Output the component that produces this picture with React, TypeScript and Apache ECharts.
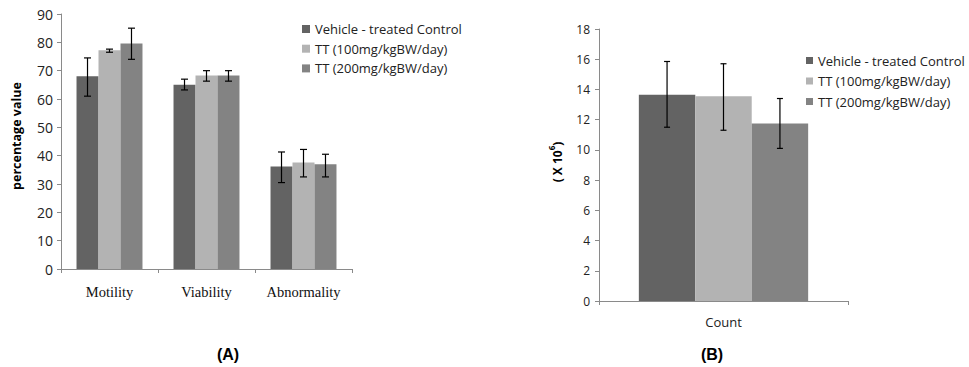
import React, { useEffect, useRef } from "react";
import * as echarts from "echarts";

const seriesNames = ["Vehicle - treated Control", "TT (100mg/kgBW/day)", "TT (200mg/kgBW/day)"];
const colors = ["#636363", "#b3b3b3", "#838383"];

const categoriesA = ["Motility", "Viability", "Abnormality"];
const vehicleA = [68, 65, 36.2];
const tt100A = [77.2, 68.3, 37.6];
const tt200A = [79.6, 68.3, 37];
const vehicleErrA = [[61, 74.5], [63.2, 67], [30.5, 41.3]];
const tt100ErrA = [[76.5, 77.6], [66.3, 70], [32.5, 42.2]];
const tt200ErrA = [[74, 85], [66.3, 70], [32.5, 40.5]];

const categoriesB = ["Count"];
const vehicleB = [13.65];
const tt100B = [13.55];
const tt200B = [11.75];
const vehicleErrB = [[11.5, 15.85]];
const tt100ErrB = [[11.3, 15.7]];
const tt200ErrB = [[10.1, 13.4]];

const yTicksA = { min: 0, max: 90, interval: 10 };
const yTicksB = { min: 0, max: 18, interval: 2 };

const GAP = 0.32;

function errSeries(errs: number[][], idx: number, axisIdx: number, cap: number) {
  return {
    type: "custom",
    xAxisIndex: axisIdx,
    yAxisIndex: axisIdx,
    silent: true,
    z: 10,
    data: errs.map((e, i) => [i, e[0], e[1]]),
    encode: { x: 0, y: [1, 2] },
    renderItem: (params: any, api: any) => {
      const cat = api.value(0);
      const lo = api.coord([cat, api.value(1)]);
      const hi = api.coord([cat, api.value(2)]);
      const catW = api.size([1, 0])[0];
      const bw = (catW * (1 - GAP)) / 3;
      const x = lo[0] + (idx - 1) * bw;
      const st = { stroke: "#000", lineWidth: 1.2 };
      return {
        type: "group",
        children: [
          { type: "line", shape: { x1: x, y1: lo[1], x2: x, y2: hi[1] }, style: st },
          { type: "line", shape: { x1: x - cap, y1: lo[1], x2: x + cap, y2: lo[1] }, style: st },
          { type: "line", shape: { x1: x - cap, y1: hi[1], x2: x + cap, y2: hi[1] }, style: st },
        ],
      };
    },
  };
}

export default function App() {
  const ref = useRef<HTMLDivElement>(null);
  useEffect(() => {
    if (!ref.current) return;
    const chart = echarts.init(ref.current, null, { renderer: "svg" });
    const axisLine = { show: true, lineStyle: { color: "#8a8a8a", width: 1 } };
    const axisTick = { show: true, length: 4, lineStyle: { color: "#8a8a8a" } };
    const sans = "Open Sans";
    const dataA = [vehicleA, tt100A, tt200A];
    const dataB = [vehicleB, tt100B, tt200B];
    const errA = [vehicleErrA, tt100ErrA, tt200ErrA];
    const errB = [vehicleErrB, tt100ErrB, tt200ErrB];
    const option: any = {
      animation: false,
      backgroundColor: "#ffffff",
      grid: [
        { left: 61, top: 14, width: 291, height: 255 },
        { left: 599, top: 29, width: 249, height: 272 },
      ],
      legend: [
        {
          data: seriesNames,
          orient: "vertical",
          left: 302,
          top: 21.5,
          padding: 0,
          itemWidth: 8,
          itemHeight: 8,
          itemGap: 4.7,
          icon: "rect",
          textStyle: { fontFamily: sans, fontSize: 13, color: "#222", lineHeight: 15 },
        },
        {
          data: seriesNames,
          orient: "vertical",
          left: 806,
          top: 53,
          padding: 0,
          itemWidth: 7,
          itemHeight: 7,
          itemGap: 5.5,
          icon: "rect",
          textStyle: { fontFamily: sans, fontSize: 13, color: "#222", lineHeight: 15 },
        },
      ],
      xAxis: [
        {
          type: "category",
          gridIndex: 0,
          data: categoriesA,
          axisLine,
          axisTick,
          axisLabel: { interval: 0, fontFamily: "Liberation Serif", fontSize: 14.5, color: "#111", margin: 15 },
        },
        {
          type: "category",
          gridIndex: 1,
          data: categoriesB,
          axisLine,
          axisTick,
          axisLabel: { fontFamily: sans, fontSize: 13, color: "#222", margin: 14 },
        },
      ],
      yAxis: [
        {
          type: "value",
          gridIndex: 0,
          ...yTicksA,
          axisLine,
          axisTick,
          splitLine: { show: false },
          axisLabel: { fontFamily: sans, fontSize: 14, color: "#222", margin: 8 },
        },
        {
          type: "value",
          gridIndex: 1,
          ...yTicksB,
          axisLine,
          axisTick,
          splitLine: { show: false },
          axisLabel: { fontFamily: sans, fontSize: 12, color: "#222", margin: 9 },
        },
      ],
      series: [
        ...seriesNames.map((n, i) => ({
          type: "bar",
          name: n,
          xAxisIndex: 0,
          yAxisIndex: 0,
          data: dataA[i],
          barGap: "0%",
          barCategoryGap: GAP * 100 + "%",
          itemStyle: { color: colors[i] },
        })),
        ...seriesNames.map((n, i) => ({
          type: "bar",
          name: n,
          xAxisIndex: 1,
          yAxisIndex: 1,
          data: dataB[i],
          barGap: "0%",
          barCategoryGap: GAP * 100 + "%",
          itemStyle: { color: colors[i] },
        })),
        ...errA.map((e, i) => errSeries(e, i, 0, 3.5)),
        ...errB.map((e, i) => errSeries(e, i, 1, 3)),
      ],
      graphic: [
        {
          type: "text",
          x: 16,
          y: 136,
          rotation: Math.PI / 2,
          style: { text: "percentage value", fontFamily: sans, fontWeight: "bold", fontSize: 12.5, fill: "#000", textAlign: "center", textVerticalAlign: "middle" },
        },
        {
          type: "text",
          x: 555,
          y: 162,
          rotation: Math.PI / 2,
          style: {
            text: "{a|( X 10}{s|6}{a|)}",
            textAlign: "center",
            textVerticalAlign: "middle",
            rich: {
              a: { fontFamily: sans, fontWeight: "bold", fontSize: 12, fill: "#000", lineHeight: 16, verticalAlign: "bottom" },
              s: { fontFamily: sans, fontWeight: "bold", fontSize: 8, fill: "#000", lineHeight: 16, verticalAlign: "top", padding: [0, 0, 7, 0] },
            },
          },
        },
        {
          type: "text",
          x: 228,
          y: 354,
          style: { text: "(A)", fontFamily: "Liberation Sans", fontWeight: "bold", fontSize: 16, fill: "#000", textAlign: "center", textVerticalAlign: "middle" },
        },
        {
          type: "text",
          x: 712,
          y: 354,
          style: { text: "(B)", fontFamily: "Liberation Sans", fontWeight: "bold", fontSize: 16, fill: "#000", textAlign: "center", textVerticalAlign: "middle" },
        },
      ],
    };
    chart.setOption(option);
    return () => chart.dispose();
  }, []);
  return (
    <div
      ref={ref}
      style={{ position: "fixed", left: 0, top: 0, width: 969, height: 367, background: "#fff" }}
    />
  );
}
